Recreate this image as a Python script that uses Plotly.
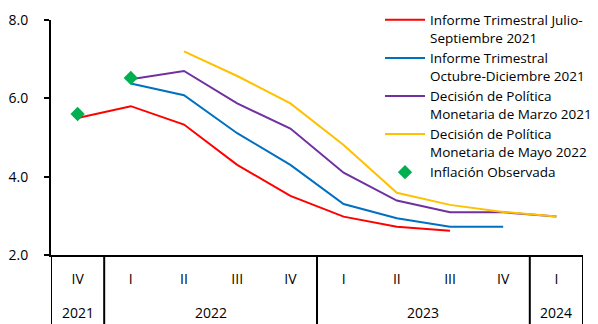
import plotly.graph_objects as go

years = ["2021", "2022", "2022", "2022", "2022", "2023", "2023", "2023", "2023", "2024"]
quarters = ["IV", "I", "II", "III", "IV", "I", "II", "III", "IV", "I"]

informe_jul_sep_2021 = [5.50, 5.80, 5.33, 4.30, 3.51, 2.98, 2.72, 2.62, None, None]
informe_oct_dic_2021 = [None, 6.38, 6.08, 5.11, 4.30, 3.30, 2.94, 2.72, 2.72, None]
decision_marzo = [None, 6.49, 6.70, 5.87, 5.23, 4.10, 3.39, 3.09, 3.09, 2.98]
decision_mayo_2022 = [None, None, 7.20, 6.57, 5.87, 4.81, 3.59, 3.28, 3.10, 2.98]
inflacion_observada = [5.60, 6.52, None, None, None, None, None, None, None, None]

y_ticks = [2, 4, 6, 8]

FONT = "Open Sans"
xs = list(range(len(quarters)))

fig = go.Figure()
series = [
    ("Informe Trimestral Julio-<br>Septiembre 2021", informe_jul_sep_2021, "#FF0000"),
    ("Informe Trimestral<br>Octubre-Diciembre 2021", informe_oct_dic_2021, "#0070C0"),
    ("Decisión de Política<br>Monetaria de Marzo 2021", decision_marzo, "#7030A0"),
    ("Decisión de Política<br>Monetaria de Mayo 2022", decision_mayo_2022, "#FFC000"),
]
for name, vals, col in series:
    fig.add_trace(go.Scatter(x=xs, y=vals, name=name, mode="lines",
                             line=dict(color=col, width=2), connectgaps=False))
fig.add_trace(go.Scatter(x=xs, y=inflacion_observada, name="Inflación Observada", mode="markers",
                         marker=dict(symbol="diamond", color="#00B050", size=11)))

# year group labels and dividers, derived from the year list
groups = []
for i, yv in enumerate(years):
    if groups and groups[-1][0] == yv:
        groups[-1][2] = i
    else:
        groups.append([yv, i, i])
bounds = [groups[0][1] - 0.5] + [g[2] + 0.5 for g in groups]
for yv, a, b in groups:
    fig.add_annotation(x=(a + b) / 2, y=-0.243, xref="x", yref="paper", text=yv,
                       showarrow=False, font=dict(size=14, color="black"), yanchor="middle")
for bx in bounds:
    fig.add_shape(type="line", xref="x", yref="paper", x0=bx, x1=bx, y0=0, y1=-0.32,
                  line=dict(color="black", width=2))

fig.update_layout(
    width=598, height=324,
    margin=dict(l=51, r=15, t=20, b=69, autoexpand=False),
    paper_bgcolor="white", plot_bgcolor="white",
    font=dict(family=FONT, size=13, color="#000000"),
    showlegend=True,
    legend=dict(x=380 / 598, y=0.986, xref="container", yref="container",
                xanchor="left", yanchor="top", bgcolor="rgba(0,0,0,0)",
                valign="top", tracegroupgap=0, font=dict(size=13.5, color="black"), itemwidth=40,
                maxheight=320),
)
fig.update_xaxes(range=[-0.5, len(quarters) - 0.5], tickvals=xs, ticktext=quarters,
                 showline=True, linecolor="black", linewidth=2, showgrid=False, zeroline=False,
                 ticks="", ticklabelstandoff=10, tickfont=dict(size=14, color="black"),
                 automargin=False)
fig.update_yaxes(range=[2, 8], tickvals=y_ticks, tickformat=".1f", showline=True,
                 linecolor="black", linewidth=2, ticks="outside", ticklen=5, tickcolor="black",
                 tickwidth=2, ticklabelstandoff=13, automargin=False,
                 showgrid=False, zeroline=False, tickfont=dict(size=14, color="black"))

fig.write_html("out.html", config={"displayModeBar": False},
               post_script="document.body.style.margin='0';")
